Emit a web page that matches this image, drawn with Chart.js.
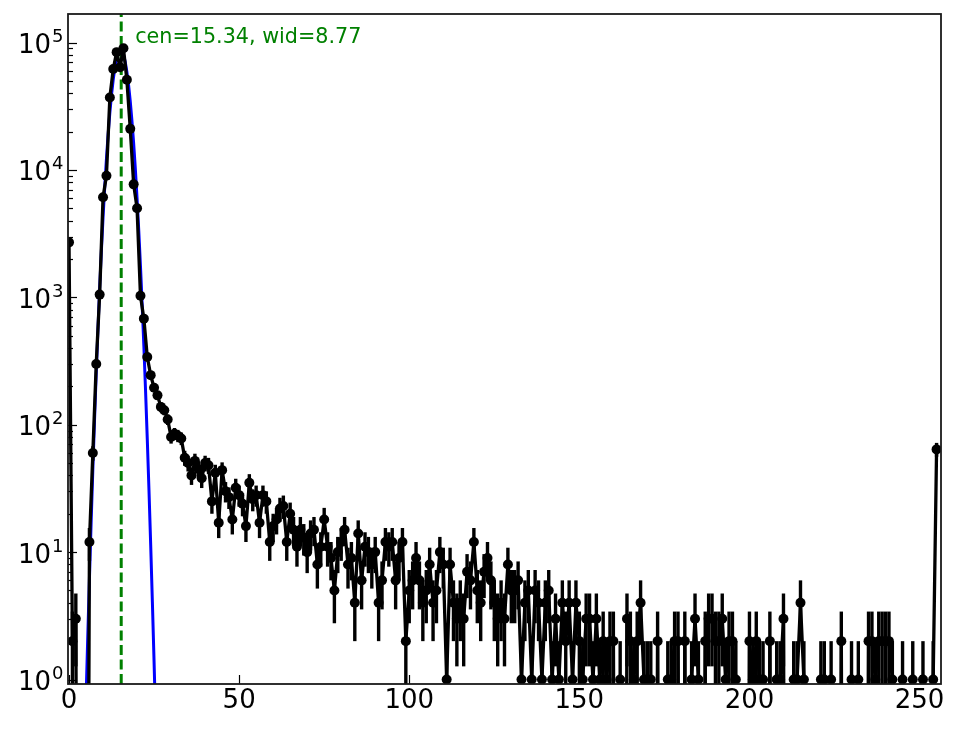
<!DOCTYPE html>
<html><head><meta charset="utf-8">
<script src="https://cdn.jsdelivr.net/npm/chart.js@4.4.1/dist/chart.umd.min.js"></script>
<style>html,body{margin:0;padding:0;background:#fff;}#wrap{width:964px;height:729px;}</style>
</head><body><div id="wrap"><canvas id="c" width="964" height="729"></canvas></div>
<script>
// ---- data (counts per bin, bin index = position) ----
const counts = [
2700,2,3,0,0,0,12,60,300,1050,
6100,9000,37000,62000,84000,64000,90000,51000,21000,7700,
5000,1030,680,340,245,195,170,138,130,110,
80,85,82,78,55,50,40,52,45,38,
50,48,25,42,17,44,30,27,18,32,
28,24,16,35,26,28,17,28,25,12,
16,18,22,23,12,20,15,11,15,13,
10,14,15,8,11,18,11,9,5,10,
12,15,8,9,4,14,6,11,10,8,
10,4,6,12,11,12,6,9,12,2,
5,6,9,6,4,5,8,4,5,10,
8,1,8,4,3,4,3,7,6,12,
5,4,7,9,6,4,3,4,3,8,
5,5,6,1,4,5,1,5,4,1,
4,5,1,3,1,4,2,4,1,4,
2,1,3,3,1,3,1,2,1,2,
2,0,1,0,3,2,1,2,4,1,
1,1,0,2,0,0,1,1,2,2,
0,2,0,1,3,1,0,2,3,3,
2,2,3,1,2,2,1,0,0,0,
2,1,2,1,1,0,2,0,1,1,
3,0,0,1,1,4,1,0,0,0,
0,1,1,0,1,0,0,2,0,0,
1,0,1,0,0,2,2,1,2,2,
2,2,1,0,0,1,0,0,1,0,
0,1,0,0,1,64
];
// fitted Gaussian curve, sampled (values read/estimated along the blue curve)
const fitX = [4.5,5.0,5.5,6.0,6.5,7.0,7.5,8.0,8.5,9.0,9.5,10.0,10.5,11.0,11.5,12.0,12.5,13.0,13.5,14.0,14.5,15.0,15.5,16.0,16.5,17.0,17.5,18.0,18.5,19.0,19.5,20.0,20.5,21.0,21.5,22.0,22.5,23.0,23.5,24.0,24.5,25.0,25.5,26.0];
const fitY = [0.21,0.689,2.13,6.22,17.2,44.8,110,256,562,1170,2290,4240,7400,12200,19100,28100,39100,51400,63800,75000,83000,86900,85900,80200,70800,59000,46400,34500,24200,16100,10100,5960,3330,1760,877,413,184,77.4,30.7,11.5,4.08,1.37,0.43,0.129];
const fitCen = 15.34;
const annotationText = 'cen=15.34, wid=8.77';
const xTicks = [0, 50, 100, 150, 200, 250];
const yTickExps = [0, 1, 2, 3, 4, 5];
const yMinorMult = [2, 3, 4, 5, 6, 7, 8, 9];

const X_MIN = -0.3, X_MAX = 256.3, Y_MIN = 0.922, Y_MAX = 1.674e5;
const ZERO_PLOT = 1e-6; // zero counts are clipped below the log axis, as in the original

const FONT = '"DejaVu Sans", "Liberation Sans", sans-serif';

const decor = {
  id: 'decor',
  beforeDatasetDraw(chart, args) {
    if (args.index !== 0) return;
    const ctx = chart.ctx, a = chart.chartArea;
    const xs = chart.scales.x, ys = chart.scales.y;
    ctx.save();
    ctx.beginPath(); ctx.rect(a.left, a.top, a.right - a.left, a.bottom - a.top); ctx.clip();
    ctx.strokeStyle = '#000'; ctx.lineWidth = 3.4; ctx.lineCap = 'butt';
    counts.forEach((c, i) => {
      if (c <= 0) return;
      const e = Math.sqrt(c);
      const px = xs.getPixelForValue(i);
      const lo = c - e, hi = c + e;
      const yLo = lo > 0 ? ys.getPixelForValue(lo) : a.bottom + 10;
      const yHi = ys.getPixelForValue(hi);
      ctx.beginPath(); ctx.moveTo(px, yLo); ctx.lineTo(px, yHi); ctx.stroke();
    });
    ctx.restore();
  },
  afterDraw(chart) {
    const ctx = chart.ctx, a = chart.chartArea;
    const xs = chart.scales.x, ys = chart.scales.y;
    ctx.save();
    // ticks (inward)
    ctx.strokeStyle = '#000'; ctx.lineWidth = 1.2;
    xTicks.forEach(v => {
      const px = Math.round(xs.getPixelForValue(v)) + 0.5;
      ctx.beginPath(); ctx.moveTo(px, a.bottom); ctx.lineTo(px, a.bottom - 9); ctx.stroke();
    });
    yTickExps.forEach(e => {
      const py = Math.round(ys.getPixelForValue(Math.pow(10, e))) + 0.5;
      ctx.beginPath(); ctx.moveTo(a.left, py); ctx.lineTo(a.left + 9, py); ctx.stroke();
      yMinorMult.forEach(m => {
        const v = m * Math.pow(10, e);
        if (v < Y_MIN || v > Y_MAX) return;
        const pm = Math.round(ys.getPixelForValue(v)) + 0.5;
        ctx.beginPath(); ctx.moveTo(a.left, pm); ctx.lineTo(a.left + 5, pm); ctx.stroke();
      });
    });
    // frame
    ctx.strokeStyle = '#1a1a1a'; ctx.lineWidth = 1.8;
    ctx.strokeRect(a.left, a.top, a.right - a.left, a.bottom - a.top);
    // x labels
    ctx.fillStyle = '#000';
    ctx.font = '26px ' + FONT; ctx.textAlign = 'center'; ctx.textBaseline = 'alphabetic';
    xTicks.forEach(v => {
      ctx.fillText(String(v), xs.getPixelForValue(v), a.bottom + 24);
    });
    // y labels 10^e
    yTickExps.forEach(e => {
      const py = ys.getPixelForValue(Math.pow(10, e));
      ctx.font = '26px ' + FONT; ctx.textAlign = 'right';
      ctx.fillText('10', 51, py + 10.5);
      ctx.font = '18px ' + FONT; ctx.textAlign = 'left';
      ctx.fillText(String(e), 52, py - 0.5);
    });
    // annotation
    ctx.fillStyle = '#008000';
    ctx.font = '20.7px ' + FONT; ctx.textAlign = 'left';
    ctx.fillText(annotationText, xs.getPixelForValue(fitCen) + 14, a.top + 29);
    ctx.restore();
  }
};

new Chart(document.getElementById('c'), {
  type: 'scatter',
  data: {
    datasets: [
      {
        label: 'data',
        order: 0,
        data: counts.map((c, i) => ({ x: i, y: c > 0 ? c : ZERO_PLOT })),
        showLine: true,
        borderColor: '#000', backgroundColor: '#000',
        borderWidth: 3.3, borderJoinStyle: 'round',
        pointRadius: counts.map(c => c > 0 ? 5 : 0),
        pointBorderWidth: 0, pointHoverRadius: 0,
        tension: 0
      },
      {
        label: 'fit',
        order: 1,
        data: fitX.map((x, i) => ({ x: x, y: fitY[i] })),
        showLine: true,
        borderColor: '#0000ff', backgroundColor: '#0000ff',
        borderWidth: 3, pointRadius: 0, tension: 0
      },
      {
        label: 'center',
        order: 2,
        data: [{ x: fitCen, y: Y_MIN }, { x: fitCen, y: Y_MAX }],
        showLine: true,
        borderColor: '#008000', borderWidth: 3, borderDash: [10, 4.5],
        pointRadius: 0
      }
    ]
  },
  options: {
    responsive: false, animation: false, devicePixelRatio: 1,
    layout: { padding: { top: 14, right: 23, left: 0, bottom: 0 } },
    plugins: { legend: { display: false }, tooltip: { enabled: false } },
    scales: {
      x: {
        type: 'linear', min: X_MIN, max: X_MAX,
        grid: { display: false }, border: { display: false },
        ticks: { display: false },
        afterBuildTicks: s => { s.ticks = xTicks.map(v => ({ value: v })); },
        afterFit: s => { s.height = 45; }
      },
      y: {
        type: 'logarithmic', min: Y_MIN, max: Y_MAX,
        grid: { display: false }, border: { display: false },
        ticks: { display: false },
        afterBuildTicks: s => { s.ticks = yTickExps.map(e => ({ value: Math.pow(10, e) })); },
        afterFit: s => { s.width = 68; }
      }
    }
  },
  plugins: [decor]
});
</script>
</body></html>
